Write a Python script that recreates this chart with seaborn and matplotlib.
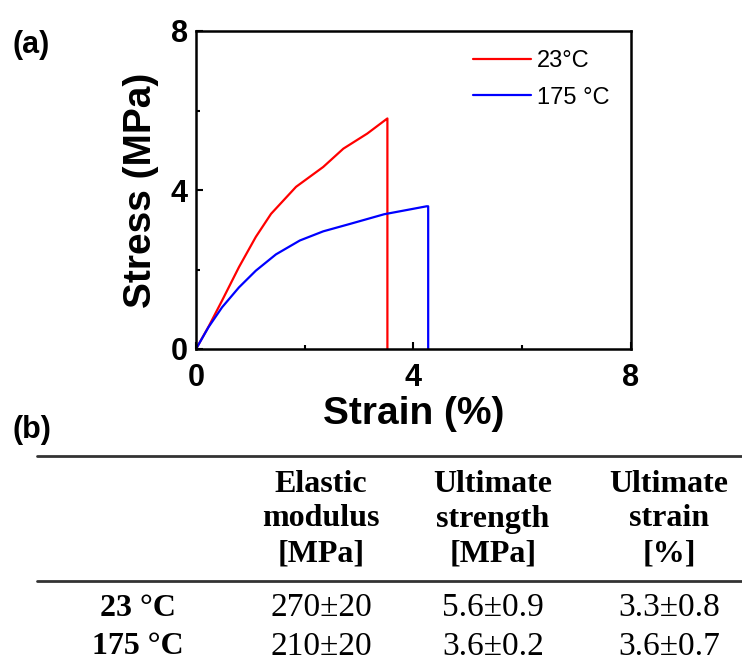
import matplotlib
matplotlib.use("Agg")
import matplotlib.pyplot as plt
import seaborn as sns
import pandas as pd

# ---- data ----
strain_23 = [0.0, 0.23, 0.48, 0.79, 1.10, 1.38, 1.84, 2.34, 2.71, 3.15, 3.50, 3.52, 3.52]
stress_23 = [0.0, 0.56, 1.22, 2.06, 2.82, 3.40, 4.08, 4.58, 5.04, 5.42, 5.78, 5.80, 0.0]
strain_175 = [0.0, 0.23, 0.48, 0.79, 1.10, 1.47, 1.91, 2.34, 2.84, 3.46, 3.89, 4.24, 4.27, 4.27]
stress_175 = [0.0, 0.55, 1.05, 1.55, 1.97, 2.38, 2.73, 2.96, 3.15, 3.39, 3.50, 3.59, 3.59, 0.0]
series_labels = ["23\u00b0C", "175 \u00b0C"]
ticks = [0, 4, 8]
minor_ticks = [2, 6]

row_labels = ["23 \u00b0C", "175 \u00b0C"]
col_headers = ["Elastic\nmodulus\n[MPa]", "Ultimate\nstrength\n[MPa]", "Ultimate\nstrain\n[%]"]
elastic_modulus = ["270\u00b120", "210\u00b120"]
ultimate_strength = ["5.6\u00b10.9", "3.6\u00b10.2"]
ultimate_strain = ["3.3\u00b10.8", "3.6\u00b10.7"]

sns.set_theme(style="ticks")
plt.rcParams['font.family'] = ['Liberation Sans', 'DejaVu Sans']
plt.rcParams['text.color'] = 'black'
plt.rcParams['axes.labelcolor'] = 'black'
plt.rcParams['xtick.color'] = 'black'
plt.rcParams['ytick.color'] = 'black'

df = pd.concat([
    pd.DataFrame({"strain": strain_23, "stress": stress_23, "T": series_labels[0]}),
    pd.DataFrame({"strain": strain_175, "stress": stress_175, "T": series_labels[1]}),
])

fig = plt.figure(figsize=(7.42, 6.70), dpi=100)

# background axes for the table and panel labels (pixel coordinates)
bg = fig.add_axes([0, 0, 1, 1], zorder=-1)
bg.set_xlim(0, 742)
bg.set_ylim(670, 0)
bg.axis("off")

L, R, T, B = 196, 631, 31, 349
ax = fig.add_axes([L/742, 1-B/670, (R-L)/742, (B-T)/670])
sns.lineplot(data=df, x="strain", y="stress", hue="T", sort=False, estimator=None,
             palette=["#ff0000", "#0000ff"], linewidth=1.6, ax=ax, units="T")
ax.set_xlim(0, 8)
ax.set_ylim(0, 8)
ax.set_xticks(ticks)
ax.set_yticks(ticks)
ax.set_xticks(minor_ticks, minor=True)
ax.set_yticks(minor_ticks, minor=True)
ax.tick_params(which="both", direction="in", width=1.5, length=5, labelsize=22, pad=10)
ax.tick_params(which="minor", length=3)
ax.tick_params(axis="y", pad=6)
for lab in ax.get_xticklabels() + ax.get_yticklabels():
    lab.set_fontweight("bold")
for s in ax.spines.values():
    s.set_linewidth(1.8)
    s.set_color("black")
ax.set_xlabel("Strain (%)", fontsize=28, fontweight="bold", labelpad=2)
ax.set_ylabel("Stress (MPa)", fontsize=28, fontweight="bold", labelpad=8)
leg = ax.legend(title=None, frameon=False, fontsize=17, loc="upper left",
                bbox_to_anchor=((473-L)/(R-L), 1-(50-T)/(B-T)), borderaxespad=0,
                borderpad=0, handlelength=2.45, handletextpad=0.25,
                labelspacing=0.62)
for line in leg.get_lines():
    line.set_linewidth(1.6)

# panel labels
bg.text(12, 45, "(a)", fontsize=22, fontweight="bold", va="center", ha="left")
bg.text(12, 430, "(b)", fontsize=22, fontweight="bold", va="center", ha="left")

# table
serif = ['Liberation Serif', 'DejaVu Serif']
bg.plot([37, 742], [456, 456], color="#333333", lw=2.0)
bg.plot([37, 742], [581, 581], color="#333333", lw=2.0)
col_x = [321, 493, 669]
for cx, h in zip(col_x, col_headers):
    bg.text(cx, 519, h, family=serif, fontweight="bold", fontsize=23, ha="center",
            va="center", linespacing=1.25)
row_y = [608, 647]
columns = [elastic_modulus, ultimate_strength, ultimate_strain]
for i, (ry, rl) in enumerate(zip(row_y, row_labels)):
    bg.text(138, ry, rl, family=serif, fontweight="bold", fontsize=23, ha="center", va="center")
    for cx, col in zip(col_x, columns):
        bg.text(cx, ry, col[i], family=serif, fontsize=24, ha="center", va="center")

fig.savefig("out.png", dpi=100)
